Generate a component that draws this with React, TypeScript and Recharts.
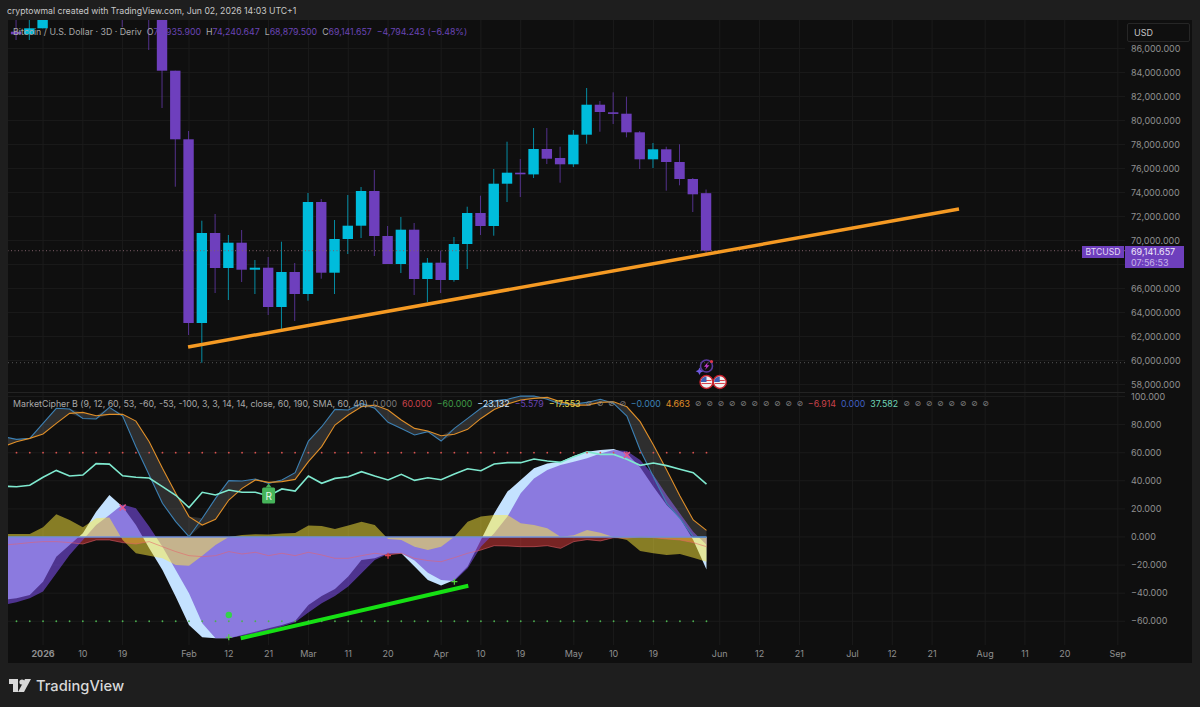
import {
  Area,
  Bar,
  CartesianGrid,
  ComposedChart,
  Line,
  ReferenceDot,
  ReferenceLine,
  XAxis,
  YAxis,
} from 'recharts'

// bar index 0 is the first 3D bar of 2026
const candleStart = -2
const opens = [87392, 87175, 87675, 88900, 91200, 93500, 90500, 91000, 95500, 91000, 89500, 88600, 84142, 78425, 63117, 70617, 67700, 69808, 67558, 67725, 64450, 67367, 65533, 73200, 67308, 70117, 71225, 74117, 70367, 68033, 70892, 66783, 68142, 66700, 69700, 72283, 71200, 74725, 75642, 75500, 77617, 76867, 76342, 78808, 81308, 80675, 80558, 79008, 76758, 77592, 76533, 75117, 73936]
const highs = [88783, 88783, 89617, 91500, 94000, 94800, 92500, 97000, 97000, 91500, 90500, 89000, 84142, 79117, 71642, 72200, 70450, 70867, 68367, 68617, 69892, 68117, 73950, 73450, 71700, 73783, 74450, 75867, 71200, 71950, 71450, 68533, 69142, 70283, 72808, 73725, 75950, 78225, 76783, 79367, 79367, 77808, 79200, 82700, 81617, 82342, 81975, 79117, 78117, 77808, 78008, 75200, 74241]
const lows = [86700, 86700, 87675, 88700, 90000, 90500, 89500, 90500, 87783, 88500, 85867, 81033, 74475, 62117, 59808, 65617, 65033, 66533, 65533, 63783, 62392, 63283, 64975, 66808, 65533, 68867, 70200, 68700, 68033, 67283, 65450, 64867, 65617, 66558, 67617, 70450, 70392, 73200, 73617, 75200, 76367, 74808, 76117, 78058, 79058, 79700, 78592, 75950, 76033, 74142, 74592, 72367, 68880]
const closes = [87175, 87675, 89200, 91200, 93500, 90500, 91000, 95500, 91000, 89500, 88600, 84142, 78425, 63117, 70617, 67700, 69808, 67558, 67725, 64450, 67367, 65533, 73200, 67308, 70117, 71225, 74117, 70367, 68033, 70892, 66783, 68142, 66700, 69700, 72283, 71200, 74725, 75642, 75617, 77617, 76808, 76342, 78808, 81308, 80700, 80558, 79008, 76758, 77592, 76533, 75117, 73842, 69142]

// 68,000 has a grid line but its label sits behind the last price tag
const priceGrid = [86000, 84000, 82000, 80000, 78000, 76000, 74000, 72000, 70000, 68000, 66000, 64000, 62000, 60000, 58000]
const priceTicks = [86000, 84000, 82000, 80000, 78000, 76000, 74000, 72000, 70000, 66000, 64000, 62000, 60000, 58000]
const oscTicks = [100, 80, 60, 40, 20, 0, -20, -40, -60]
const timeTicks = [0, 3, 6, 11, 14, 17, 20, 23, 26, 30, 33, 36, 40, 43, 46, 51, 54, 57, 61, 64, 67, 71, 74, 77, 81]
const timeLabels = ['2026', '10', '19', 'Feb', '12', '21', 'Mar', '11', '20', 'Apr', '10', '19', 'May', '10', '19', 'Jun', '12', '21', 'Jul', '12', '21', 'Aug', '11', '20', 'Sep']

// oscillator series, bars -3 to 50
const oscStart = -3
const wt1 = [71.4, 69.5, 70.2, 80.9, 91.6, 91.1, 84.4, 84, 92.3, 86.1, 64.3, 44.1, 24, 10.9, 0.2, 13.3, 27.5, 40.1, 39.9, 41.3, 38.2, 40.6, 45.8, 68.3, 78.5, 90.8, 90.4, 95.1, 91.6, 81.6, 77.3, 72.6, 75, 68.3, 77.3, 84.4, 91.6, 97, 98, 100.3, 100.3, 98, 94.6, 94.6, 95.8, 98, 95.1, 86.1, 61.9, 42.9, 24, 13.3, 0.2, 0]
const wt2 = [64.3, 67.8, 70.2, 73.3, 80.9, 88, 88.7, 86.3, 87.3, 87.3, 82.5, 67.8, 48.9, 31.1, 14.5, 8.5, 12.6, 26.3, 34.6, 40.6, 38.9, 39.4, 41, 53.6, 64.3, 79.7, 86.8, 92.7, 93.9, 90.4, 83.3, 77.3, 75.4, 72.1, 73.1, 76.6, 84.4, 90.8, 94.6, 97.5, 98.7, 99.4, 96.3, 93.9, 93.9, 95.8, 96.3, 92.7, 82.1, 65.5, 47.7, 29.2, 12.1, 4.66]
const rsi = [36.1, 35.8, 36.8, 42.5, 47.4, 43.4, 44.1, 52.2, 51.9, 43.6, 42.5, 42, 35.8, 29.7, 20.9, 31.8, 29.9, 33.4, 31.8, 31.8, 29.2, 34.2, 32.7, 43.4, 38.2, 41.7, 42.9, 46.5, 43.4, 40.6, 44.6, 40.3, 42.2, 40.8, 44.8, 48.6, 47.2, 51.9, 52.9, 52.9, 55.5, 54.1, 53.1, 57.2, 60.7, 58.8, 58.8, 55.3, 51, 52.7, 50.8, 48.2, 45.8, 37.58]
const lightWave = [-44.8, -43.6, -41.3, -31.8, -14, -5.7, 2.6, 18, 29.9, 21.6, 8.5, -8.1, -23.5, -42.5, -62.6, -71.4, -72.1, -72.1, -69.7, -67.4, -65, -62.6, -59.8, -48.4, -42, -37, -28.2, -16.4, -15.2, -11.6, -11.6, -21.1, -30.6, -34.6, -30.6, -21.1, -2.1, 16.8, 32.3, 40.6, 48.9, 52.4, 53.6, 57.6, 60.7, 61.9, 62.6, 59.5, 49.6, 35.8, 22.8, 13.3, -2.1, -23.13]
const purpleWave = [-48.4, -46.5, -43.6, -38.9, -25.9, -12.8, -2.1, 8.5, 15.7, 23.2, 20.4, 7.4, -6.9, -23.5, -40.1, -61.4, -72.1, -72.1, -70.4, -68.6, -66.7, -63.8, -60.7, -53.8, -47.2, -42, -35.3, -25.9, -16.4, -12.1, -11.6, -16.8, -25.4, -30.6, -31.3, -22.3, -6.9, 2.6, 14.5, 31.1, 41.7, 47.7, 51.2, 53.6, 56, 59.5, 61.9, 61.2, 54.8, 44.1, 29.9, 16.8, 3.8, -5.58]
const moneyFlow = [2.1, 2.1, 2.1, 6.9, 16.1, 12.1, 6.9, 13.3, 13.8, -2.1, -11.6, -13.3, -15.2, -19.9, -20.4, -13.3, -5.7, 0, 1.4, 1.9, 1.7, 2.4, 2.8, 8.1, 7.8, 5.7, 8.1, 10.9, 8.5, -1.4, -2.1, -6.9, -9.3, -6.9, 0.2, 10.9, 14.5, 15.7, 15.7, 9.7, 8.5, 6.2, 0.2, 1.2, 5, 3.1, 0, -2.1, -10, -11.6, -12.8, -12.1, -14.7, -17.55]
const redWave = [-5.7, -5, -4, -3.3, -3.3, -4, -5, -2.1, -2.1, -4, -5, -3.3, -6.9, -10.4, -13.3, -14, -13.3, -10.4, -12.1, -10.9, -13.3, -11.6, -13.3, -10.9, -12.8, -15.2, -15.2, -13.3, -11.6, -12.8, -11.6, -15.2, -16.8, -17.6, -14.7, -11.6, -9.3, -6.2, -6.4, -6.9, -6.9, -6.2, -8.1, -3.3, -1.9, -2.8, -0.5, -0.9, 0.2, -0.5, -1.4, -2.1, -4, -6.91]

const priceTrend = [
  { x: 10.93, y: 61117 },
  { x: 69.03, y: 72617 },
]
const greenTrend = [
  { x: 14.9, y: -72.1 },
  { x: 32.05, y: -34.7 },
]
const plusMarks = [
  { x: 14, y: -71.4, color: '#4fd13a' },
  { x: 26, y: -13.3, color: '#e2444f' },
  { x: 31, y: -31.8, color: '#4fd13a' },
]
const pinkMarks = [
  { x: 6, y: 21 },
  { x: 44, y: 58.4 },
]
const flagBars = [50, 51]

const lastPrice = 69141.657
const lowLine = 59808

const candleData = opens.map((open, i) => ({
  bar: candleStart + i,
  open,
  high: highs[i],
  low: lows[i],
  close: closes[i],
  range: [lows[i], highs[i]],
}))

const oscData = wt1.map((v, i) => ({
  bar: oscStart + i,
  wt1: v,
  wt2: wt2[i],
  band: [Math.min(v, wt2[i]), Math.max(v, wt2[i])],
  rsi: rsi[i],
  lightWave: lightWave[i],
  purpleWave: purpleWave[i],
  moneyFlow: moneyFlow[i],
  redWave: redWave[i],
  zero: 0,
  upper: 60,
  lower: -60,
}))

const xDomain = [-2.64, 81.54]
const gridColor = '#1b1b1b'
const textColor = '#8f8f8f'
const uiFont = 'Inter, "Noto Sans", sans-serif'
const upColor = '#00bcdc'
const downColor = '#6e3fbd'

const fmt = (v: number) => {
  const s = Math.abs(v).toLocaleString('en-US', { minimumFractionDigits: 3, maximumFractionDigits: 3 })
  return v < 0 ? '\u2212' + s : s
}

const Candle = (props: any) => {
  const { x, y, width, height, payload } = props
  const { open, high, low, close } = payload
  const k = Math.abs(height) / (high - low)
  const yOf = (v: number) => y + (high - v) * k
  const color = close >= open ? upColor : downColor
  const top = yOf(Math.max(open, close))
  const bottom = yOf(Math.min(open, close))
  const cx = x + width / 2
  return (
    <g>
      <line x1={cx} x2={cx} y1={y} y2={y + Math.abs(height)} stroke={color} strokeOpacity={0.72} strokeWidth={1} />
      <rect x={x} y={top} width={width} height={Math.max(bottom - top, 1.6)} fill={color} />
    </g>
  )
}

const TimeTick = (props: any) => {
  const { x, y, payload } = props
  const label = timeLabels[timeTicks.indexOf(payload.value)]
  return (
    <text x={x} y={y + 4} textAnchor="middle" fontSize={9} fontFamily={uiFont} fontWeight={label === '2026' ? 700 : 400} fill={textColor}>
      {label}
    </text>
  )
}

const PlusMark = ({ cx, cy, color }: any) => (
  <path d={`M${cx - 3} ${cy}H${cx + 3}M${cx} ${cy - 3}V${cy + 3}`} stroke={color} strokeWidth={1.2} />
)

const PinkMark = ({ cx, cy }: any) => (
  <path d={`M${cx - 3} ${cy - 3}L${cx + 3} ${cy + 3}M${cx + 3} ${cy - 3}L${cx - 3} ${cy + 3}`} stroke="#e8558a" strokeWidth={1.6} />
)

const RTag = ({ cx, cy }: any) => (
  <g>
    <rect x={cx - 6.5} y={cy - 8} width={13} height={16} rx={1.5} fill="#46b45a" />
    <path d={`M${cx - 3} ${cy - 8}L${cx} ${cy - 12}L${cx + 3} ${cy - 8}Z`} fill="#46b45a" />
    <text x={cx} y={cy + 4} textAnchor="middle" fontSize={10} fontFamily={uiFont} fill="#e6f7e8">R</text>
  </g>
)

const FlagIcon = ({ cx, cy }: any) => (
  <g>
    <circle cx={cx} cy={cy} r={6.5} fill="#f0f0f0" stroke="#c8202c" strokeWidth={1.4} />
    <path d={`M${cx - 5} ${cy - 1.5}H${cx + 5}M${cx - 5} ${cy + 1.5}H${cx + 5}`} stroke="#d9434d" strokeWidth={1.2} />
    <path d={`M${cx - 5.6} ${cy}A5.6 5.6 0 0 1 ${cx} ${cy - 5.6}V${cy}Z`} fill="#3e5fb0" />
  </g>
)

const BoltIcon = ({ cx, cy }: any) => (
  <g>
    <circle cx={cx} cy={cy} r={6} fill="none" stroke="#5a3a9c" strokeWidth={1.6} />
    <path d={`M${cx + 1.5} ${cy - 4}L${cx - 2.5} ${cy + 0.8}H${cx}L${cx - 1.5} ${cy + 4}L${cx + 3} ${cy - 0.8}H${cx + 0.5}Z`} fill="#c23bd0" />
    <circle cx={cx + 5} cy={cy - 4.5} r={1.6} fill="#e0344a" />
    <path d={`M${cx - 7} ${cy + 1.5}l1.2 2.6l2.6 1.2l-2.6 1.2l-1.2 2.6l-1.2 -2.6l-2.6 -1.2l2.6 -1.2Z`} fill="#6f5ae0" />
  </g>
)

const PriceChart = () => (
  <ComposedChart width={1184} height={372} data={candleData} margin={{ top: 0, right: 0, bottom: 0, left: 0 }}>
    <CartesianGrid stroke={gridColor} verticalValues={timeTicks} horizontalValues={priceGrid} />
    <XAxis dataKey="bar" type="number" domain={xDomain} allowDataOverflow ticks={timeTicks} hide />
    <YAxis
      orientation="right"
      width={67}
      domain={[57367, 88367]}
      allowDataOverflow
      ticks={priceTicks}
      interval={0}
      tickFormatter={fmt}
      axisLine={false}
      tickLine={false}
      tickMargin={0}
      tick={{ fill: textColor, fontSize: 9, fontFamily: uiFont }}
    />
    <ReferenceLine y={lowLine} stroke="#555555" strokeDasharray="1 3" />
    <ReferenceLine y={lastPrice} stroke="#80606a" strokeDasharray="1 2.5" />
    <Bar dataKey="range" barSize={10.4} shape={<Candle />} isAnimationActive={false} />
    <ReferenceLine segment={priceTrend} stroke="#f59a23" strokeWidth={3.5} />
    <ReferenceDot x={50} y={59533} r={6} shape={<BoltIcon />} />
    {flagBars.map((bar) => (
      <ReferenceDot key={bar} x={bar} y={58200} r={6} shape={<FlagIcon />} />
    ))}
  </ComposedChart>
)

const OscChart = () => (
  <ComposedChart width={1184} height={270} data={oscData} margin={{ top: 0, right: 0, bottom: 0, left: 0 }} style={{ overflow: 'visible' }}>
    <CartesianGrid stroke={gridColor} verticalValues={timeTicks} horizontalValues={oscTicks} />
    <XAxis
      dataKey="bar"
      type="number"
      domain={xDomain}
      allowDataOverflow
      ticks={timeTicks}
      interval={0}
      height={18}
      axisLine={false}
      tickLine={false}
      tick={<TimeTick />}
    />
    <YAxis
      orientation="right"
      width={67}
      domain={[-76.9, 102.5]}
      allowDataOverflow
      ticks={oscTicks}
      interval={0}
      tickFormatter={fmt}
      axisLine={false}
      tickLine={false}
      tickMargin={0}
      tick={{ fill: textColor, fontSize: 9, fontFamily: uiFont }}
    />
    <Area dataKey="redWave" type="linear" stroke="none" fill="#e03a3a" fillOpacity={0.5} isAnimationActive={false} />
    <Area dataKey="lightWave" type="linear" stroke="none" fill="#c4e2ff" fillOpacity={1} isAnimationActive={false} />
    <Area dataKey="purpleWave" type="linear" stroke="none" fill="#6e46cf" fillOpacity={0.67} isAnimationActive={false} />
    <Area dataKey="moneyFlow" type="linear" stroke="none" fill="#ffeb3c" fillOpacity={0.5} isAnimationActive={false} />
    <Area dataKey="band" type="linear" stroke="none" fill="#ffffff" fillOpacity={0.13} isAnimationActive={false} />
    <Line dataKey="redWave" stroke="#e8606a" strokeOpacity={0.55} strokeWidth={1} dot={false} isAnimationActive={false} />
    <Line dataKey="zero" stroke="#6f8ed8" strokeWidth={1.6} dot={false} isAnimationActive={false} />
    <Line dataKey="upper" stroke="none" dot={{ r: 0.9, fill: '#d9534f', stroke: 'none' }} isAnimationActive={false} />
    <Line dataKey="lower" stroke="none" dot={{ r: 0.9, fill: '#4caf50', stroke: 'none' }} isAnimationActive={false} />
    <Line dataKey="wt1" stroke="#3c80b4" strokeWidth={1.1} dot={false} isAnimationActive={false} />
    <Line dataKey="wt2" stroke="#e08f28" strokeWidth={1.1} dot={false} isAnimationActive={false} />
    <Line dataKey="rsi" stroke="#7fe9cf" strokeWidth={1.6} dot={false} isAnimationActive={false} />
    <ReferenceLine segment={greenTrend} stroke="#16e014" strokeWidth={4} />
    {plusMarks.map((m) => (
      <ReferenceDot key={m.x} x={m.x} y={m.y} r={3} shape={<PlusMark color={m.color} />} />
    ))}
    {pinkMarks.map((m) => (
      <ReferenceDot key={m.x} x={m.x} y={m.y} r={3} shape={<PinkMark />} />
    ))}
    <ReferenceDot x={14} y={-55.5} r={3.2} fill="#35d24a" stroke="none" />
    <ReferenceDot x={17} y={29.5} r={6} shape={<RTag />} />
  </ComposedChart>
)

const Empties = ({ count }: { count: number }) => (
  <>
    {Array.from({ length: count }).map((_, i) => (
      <span key={i} style={{ color: '#8a8a8a', fontSize: 8, fontFamily: '"DejaVu Sans"', width: 6.3, textAlign: 'center', display: 'inline-block' }}>
        {'\u2298'}
      </span>
    ))}
  </>
)

const App = () => (
  <div style={{ position: 'absolute', left: 0, top: 0, width: 1200, height: 707, background: '#1e1e1e', overflow: 'hidden', fontFamily: uiFont }}>
    <div style={{ position: 'absolute', left: 7, top: 6, fontSize: 8.7, color: '#c9c9c9', whiteSpace: 'nowrap' }}>
      cryptowmal created with TradingView.com, Jun 02, 2026 14:03 UTC+1
    </div>
    <div style={{ position: 'absolute', left: 8, top: 20, width: 1184, height: 643, background: '#0f0f0f' }} />
    <div style={{ position: 'absolute', left: 8, top: 20 }}>
      <PriceChart />
    </div>
    <div style={{ position: 'absolute', left: 8, top: 392, width: 1117, height: 1, background: '#232323' }} />
    <div style={{ position: 'absolute', left: 8, top: 393 }}>
      <OscChart />
    </div>

    <div style={{ position: 'absolute', left: 13, top: 26, fontSize: 8.8, whiteSpace: 'nowrap', color: '#6a45b5', display: 'flex', gap: 5 }}>
      <span style={{ color: '#a8a8a8' }}>Bitcoin / U.S. Dollar · 3D · Deriv</span>
      <span><span style={{ color: '#a8a8a8' }}>O</span>73,935.900</span>
      <span><span style={{ color: '#a8a8a8' }}>H</span>74,240.647</span>
      <span><span style={{ color: '#a8a8a8' }}>L</span>68,879.500</span>
      <span><span style={{ color: '#a8a8a8' }}>C</span>69,141.657</span>
      <span>−4,794.243 (−6.48%)</span>
    </div>

    <div style={{ position: 'absolute', left: 1127, top: 23, width: 55, height: 17, border: '1px solid #262626', borderRadius: 2, color: '#c4c4c4', fontSize: 9, lineHeight: '17px', paddingLeft: 6, boxSizing: 'content-box' }}>
      USD
    </div>

    <div style={{ position: 'absolute', left: 1082, top: 246, width: 42, height: 12, background: downColor, color: '#e4d9f5', fontSize: 8.6, lineHeight: '12px', textAlign: 'center' }}>
      BTCUSD
    </div>
    <div style={{ position: 'absolute', left: 1125, top: 246, width: 59, height: 22, background: downColor, color: '#efe8fa', fontSize: 9, lineHeight: '11px', paddingLeft: 6, boxSizing: 'border-box' }}>
      <div>69,141.657</div>
      <div style={{ color: '#c8b5e8' }}>07:56:53</div>
    </div>

    <div style={{ position: 'absolute', left: 13, top: 398, fontSize: 8.8, whiteSpace: 'nowrap', display: 'flex', alignItems: 'center', gap: 5, color: '#a8a8a8' }}>
      <span>MarketCipher B (9, 12, 60, 53, -60, -53, -100, 3, 3, 14, 14, close, 60, 190, SMA, 60, 40)</span>
      <span style={{ color: '#7a7a7a' }}>0.000</span>
      <span style={{ color: '#c8424a' }}>60.000</span>
      <span style={{ color: '#3f9a45' }}>−60.000</span>
      <span style={{ color: '#cfe6ff' }}>−23.132</span>
      <span style={{ color: '#6a45b5' }}>−5.579</span>
      <span style={{ color: '#e6d84e' }}>−17.553</span>
      <Empties count={4} />
      <span style={{ color: '#3c80b4' }}>−0.000</span>
      <span style={{ color: '#e08f28' }}>4.663</span>
      <Empties count={10} />
      <span style={{ color: '#c8424a' }}>−6.914</span>
      <span style={{ color: '#3f5fc0' }}>0.000</span>
      <span style={{ color: '#6fd6b8' }}>37.582</span>
      <Empties count={8} />
    </div>

    <svg style={{ position: 'absolute', left: 8, top: 678 }} width={24} height={16}>
      <path d="M1 1H10V14H5V6H1Z" fill="#d8d8d8" />
      <circle cx={14} cy={4} r={2.6} fill="#d8d8d8" />
      <path d="M17 1H23L16 14H10Z" fill="#d8d8d8" />
    </svg>
    <div style={{ position: 'absolute', left: 36, top: 675, fontSize: 14.7, fontWeight: 500, color: '#d8d8d8', lineHeight: '22px' }}>
      TradingView
    </div>
  </div>
)

export default App
